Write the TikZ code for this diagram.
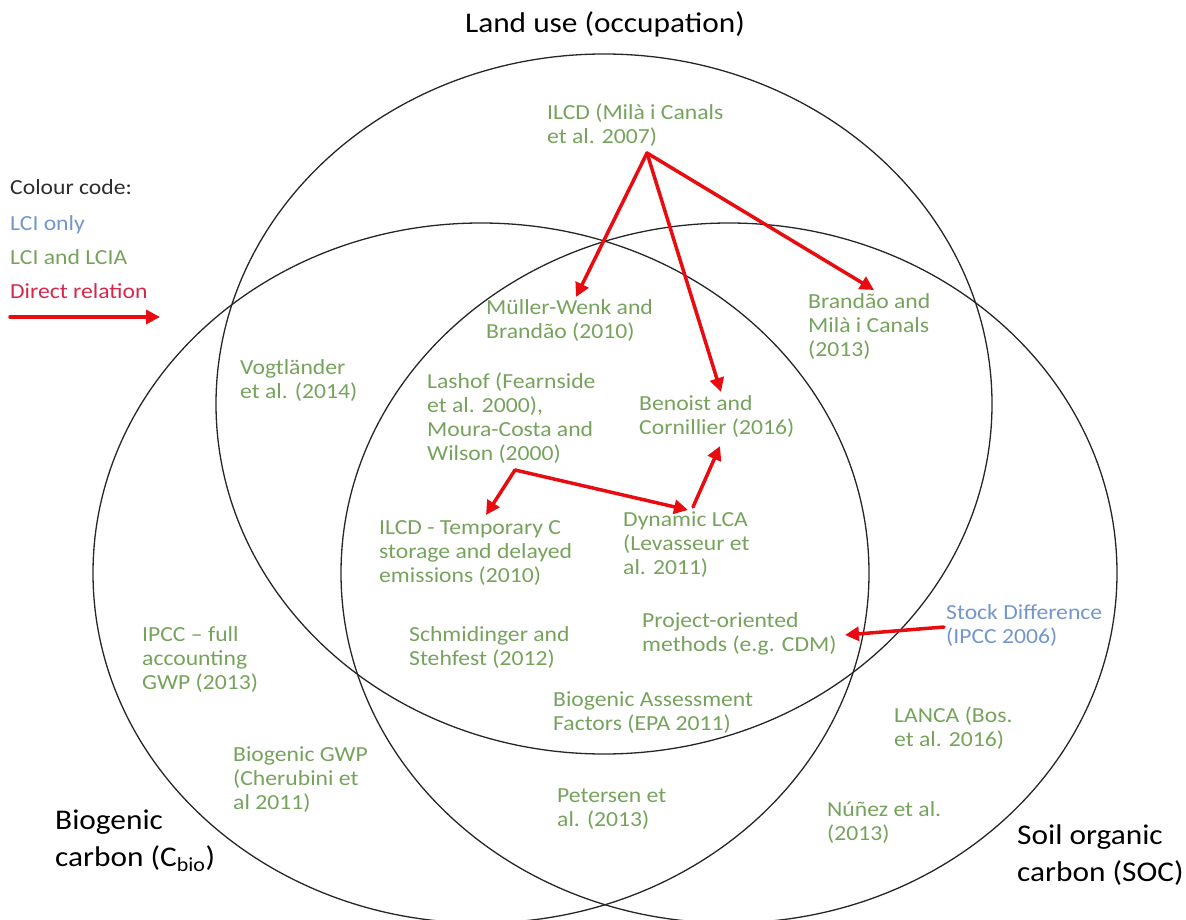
\documentclass[tikz,border=0pt]{standalone}
\usepackage{fontspec}
\setmainfont{Carlito}[FakeStretch=1.1]
\usetikzlibrary{arrows.meta}
\definecolor{lblgreen}{RGB}{118,163,92}
\definecolor{lblblue}{RGB}{115,150,205}
\definecolor{relred}{RGB}{214,40,74}
\definecolor{arrred}{RGB}{232,12,16}
\definecolor{codegray}{RGB}{45,45,45}
\begin{document}
\begin{tikzpicture}[x=1pt,y=-1pt,
  setring/.style={draw=black!85, line width=1.3pt},
  lbl/.style={anchor=west, align=left, inner sep=0pt, text=lblgreen, font=\fontsize{21.5}{24}\selectfont},
  lciblue/.style={lbl, text=lblblue},
  setname/.style={anchor=west, align=left, inner sep=0pt, text=black, font=\fontsize{28.5}{37}\selectfont},
  legend/.style={anchor=base west, inner sep=0pt, font=\fontsize{21.5}{24}\selectfont},
  rel/.style={draw=arrred, line width=3.5pt, line cap=round, -{Triangle[length=14pt,width=14pt]}}
]
\useasboundingbox (0,0) rectangle (1186,920);
\begin{scope}
\clip (0,0) rectangle (1186,920);
\draw[setring] (604,404) ellipse [x radius=388pt, y radius=350pt];
\draw[setring] (481,573) ellipse [x radius=388pt, y radius=350pt];
\draw[setring] (729,573) ellipse [x radius=388pt, y radius=350pt];
\end{scope}

% set names
\node[anchor=base, inner sep=0pt, font=\fontsize{28.5}{37}\selectfont] (landuse) at (605,33) {Land use (occupation)};
\node[setname] (biocarbon) at (55,841) {Biogenic\\carbon (C\textsubscript{bio})};
\node[setname] (soc) at (1017,855) {Soil organic\\carbon (SOC)};

% legend
\node[legend, text=codegray] (lgcode) at (10,195) {Colour code:};
\node[legend, text=lblblue] (lgblue) at (10,230) {LCI only};
\node[legend, text=lblgreen] (lggreen) at (10,264) {LCI and LCIA};
\node[legend, text=relred] (lgred) at (10,298) {Direct relation};
\coordinate (lgA) at (10,317);
\coordinate (lgB) at (160,317);
\draw[rel] (lgA) -- (lgB);

% labels
\node[lbl] (ilcd) at (547,125) {ILCD (Milà i Canals\\et al. 2007)};
\node[lbl] (muller) at (486,321) {Müller-Wenk and\\Brandão (2010)};
\node[lbl] (brandao) at (808,327) {Brandão and\\Milà i Canals\\(2013)};
\node[lbl] (vogt) at (240,381) {Vogtländer\\et al. (2014)};
\node[lbl] (lashof) at (427,418) {Lashof (Fearnside\\et al. 2000),\\Moura-Costa and\\Wilson (2000)};
\node[lbl] (benoist) at (639,417) {Benoist and\\Cornillier (2016)};
\node[lbl] (ilcdtemp) at (379,553) {ILCD - Temporary C\\storage and delayed\\emissions (2010)};
\node[lbl] (dynlca) at (623,545) {Dynamic LCA\\(Levasseur et\\al. 2011)};
\node[lbl] (ipcc) at (142,660) {IPCC – full\\accounting\\GWP (2013)};
\node[lbl] (schmid) at (409,648) {Schmidinger and\\Stehfest (2012)};
\node[lbl] (project) at (642,634) {Project-oriented\\methods (e.g. CDM)};
\node[lciblue] (stock) at (946,626) {Stock Difference\\(IPCC 2006)};
\node[lbl] (bioassess) at (553,713) {Biogenic Assessment\\Factors (EPA 2011)};
\node[lbl] (lanca) at (894,728) {LANCA (Bos.\\et al. 2016)};
\node[lbl] (biogwp) at (233,780) {Biogenic GWP\\(Cherubini et\\al 2011)};
\node[lbl] (petersen) at (557,809) {Petersen et\\al. (2013)};
\node[lbl] (nunez) at (827,823) {Núñez et al.\\(2013)};

% arrow end points
\coordinate (ilcdOut) at (647,153);
\coordinate (mullerIn) at (576,297);
\coordinate (benoistIn) at (721,392);
\coordinate (brandaoIn) at (874,290);
\coordinate (lashofOut) at (515,470);
\coordinate (ilcdtempIn) at (486,515);
\coordinate (dynlcaIn) at (688,510);
\coordinate (dynlcaOut) at (693,507);
\coordinate (benoistIn2) at (720,446);
\coordinate (stockOut) at (944,627);
\coordinate (projectIn) at (845,635);

\draw[rel] (ilcdOut) -- (mullerIn);
\draw[rel] (ilcdOut) -- (benoistIn);
\draw[rel] (ilcdOut) -- (brandaoIn);
\draw[rel] (lashofOut) -- (ilcdtempIn);
\draw[rel] (lashofOut) -- (dynlcaIn);
\draw[rel] (dynlcaOut) -- (benoistIn2);
\draw[rel] (stockOut) -- (projectIn);
\end{tikzpicture}
\end{document}
